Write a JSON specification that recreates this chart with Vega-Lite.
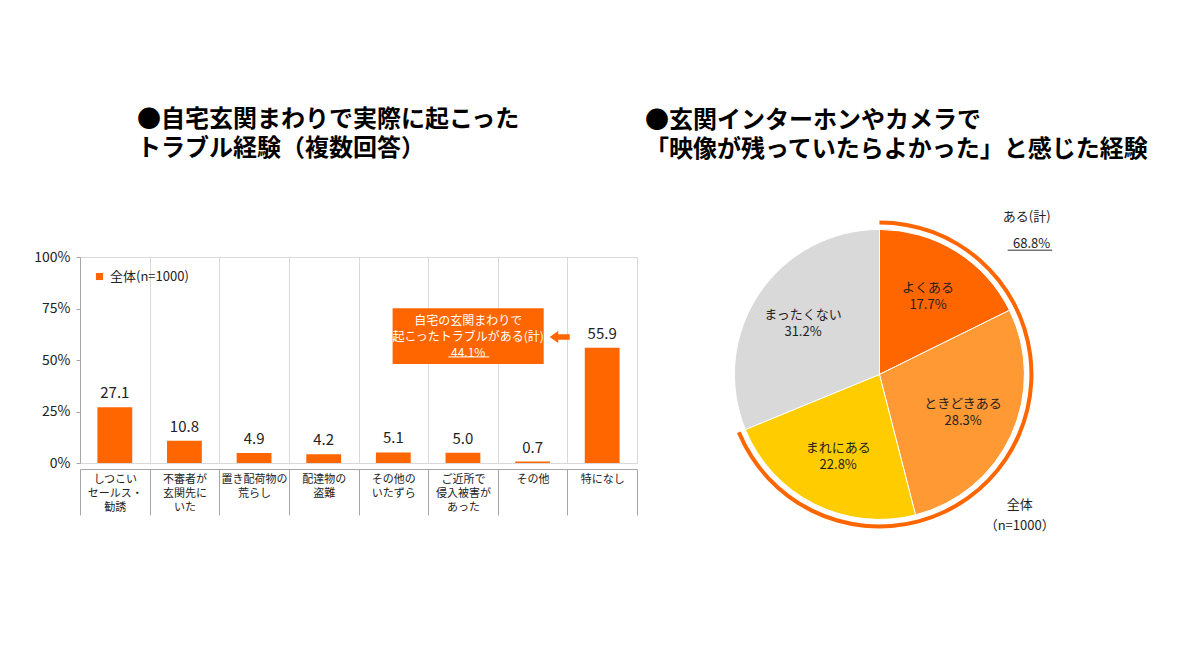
{
  "$schema": "https://vega.github.io/schema/vega-lite/v6.json",
  "background": "white",
  "padding": {"left": 33, "top": 107, "right": 0, "bottom": 0},
  "spacing": 61,
  "bounds": "flush",
  "resolve": {"scale": {"color": "independent"}, "legend": {"color": "independent"}},
  "config": {
    "font": "Noto Sans CJK JP",
    "view": {"stroke": null},
    "title": {"font": "Noto Sans CJK JP", "fontSize": 24, "fontWeight": "bold", "color": "#000000", "anchor": "start", "lineHeight": 29, "align": "left", "frame": "group"}
  },
  "hconcat": [
    {
      "width": 557,
      "height": 206,
      "view": {"stroke": "#d9d9d9"},
      "title": {"text": ["●自宅玄関まわりで実際に起こった", "　トラブル経験（複数回答）"], "dx": 57, "offset": 89},
      "data": {"values": [
        {"cat": "しつこい\nセールス・\n勧誘", "v": 27.1},
        {"cat": "不審者が\n玄関先に\nいた", "v": 10.8},
        {"cat": "置き配荷物の\n荒らし", "v": 4.9},
        {"cat": "配達物の\n盗難", "v": 4.2},
        {"cat": "その他の\nいたずら", "v": 5.1},
        {"cat": "ご近所で\n侵入被害が\nあった", "v": 5.0},
        {"cat": "その他", "v": 0.7},
        {"cat": "特になし", "v": 55.9}
      ]},
      "layer": [
        {
          "mark": {"type": "bar", "width": {"band": 0.5}},
          "encoding": {
            "x": {"field": "cat", "type": "nominal", "sort": null,
              "scale": {"paddingInner": 0, "paddingOuter": 0},
              "axis": {"title": null, "labelAngle": 0, "labelFontSize": 11, "labelColor": "#222222", "labelLineHeight": 14,
                "labelBaseline": "top", "labelExpr": "split(datum.label, '\\n')", "tickBand": "extent", "tickSize": 46,
                "labelPadding": -42, "offset": 6, "tickColor": "#a6a6a6", "domainColor": "#a6a6a6",
                "grid": true, "gridColor": "#d9d9d9"}},
            "y": {"field": "v", "type": "quantitative", "scale": {"domain": [0, 100], "nice": false},
              "axis": {"title": null, "values": [0, 25, 50, 75, 100], "labelExpr": "datum.value + '%'", "grid": false,
                "tickSize": 4, "tickColor": "#a6a6a6", "domainColor": "#a6a6a6", "labelFontSize": 14, "labelColor": "#222222", "labelPadding": 6}},
            "color": {"datum": "全体(n=1000)", "type": "nominal", "scale": {"range": ["#FF6600"]},
              "legend": {"title": null, "orient": "top-left", "offset": 13, "padding": 0, "symbolType": "square", "symbolSize": 50,
                "symbolStrokeWidth": 0, "labelFontSize": 13, "labelColor": "#222222"}}
          }
        },
        {
          "mark": {"type": "text", "baseline": "bottom", "dy": -6, "fontSize": 15, "color": "#222222"},
          "encoding": {
            "x": {"field": "cat", "type": "nominal", "sort": null, "scale": {"paddingInner": 0, "paddingOuter": 0}, "axis": null},
            "y": {"field": "v", "type": "quantitative"},
            "text": {"field": "v", "type": "quantitative", "format": ".1f"}
          }
        },
        {
          "data": {"values": [{"total": 44.1}]},
          "mark": {"type": "rect", "color": "#FF6600"},
          "encoding": {
            "x": {"datum": 4.49, "type": "quantitative", "scale": {"domain": [0, 8], "nice": false, "zero": false}, "axis": null},
            "x2": {"datum": 6.66},
            "y": {"datum": 75.1, "type": "quantitative"},
            "y2": {"datum": 48.1}
          }
        },
        {
          "data": {"values": [{"total": 44.1}]},
          "mark": {"type": "text", "color": "white", "fontSize": 12, "lineHeight": 16, "align": "center", "baseline": "middle"},
          "encoding": {
            "x": {"datum": 5.575, "type": "quantitative", "scale": {"domain": [0, 8], "nice": false, "zero": false}, "axis": null},
            "y": {"datum": 69.1, "type": "quantitative"},
            "text": {"value": ["自宅の玄関まわりで", "起こったトラブルがある(計)", "44.1%"]}
          }
        },
        {
          "data": {"values": [{"total": 44.1}]},
          "mark": {"type": "rule", "color": "white", "strokeWidth": 1},
          "encoding": {
            "x": {"datum": 5.29, "type": "quantitative", "scale": {"domain": [0, 8], "nice": false, "zero": false}, "axis": null},
            "x2": {"datum": 5.88},
            "y": {"datum": 51.5, "type": "quantitative"}
          }
        },
        {
          "data": {"values": [{"total": 44.1}]},
          "mark": {"type": "point", "filled": true, "opacity": 1, "color": "#FF6600", "size": 400,
            "shape": "M-1,0 L-0.15,-0.6 L-0.15,-0.28 L1,-0.28 L1,0.28 L-0.15,0.28 L-0.15,0.6 Z"},
          "encoding": {
            "x": {"datum": 6.89, "type": "quantitative", "scale": {"domain": [0, 8], "nice": false, "zero": false}, "axis": null},
            "y": {"datum": 61.2, "type": "quantitative"}
          }
        }
      ],
      "resolve": {"scale": {"x": "independent"}, "axis": {"x": "independent"}}
    },
    {
      "width": 450,
      "height": 290,
      "title": {"text": ["●玄関インターホンやカメラで", "「映像が残っていたらよかった」と感じた経験"], "dx": -53, "offset": 49},
      "data": {"values": [
        {"k": "よくある", "v": 17.7, "i": 1},
        {"k": "ときどきある", "v": 28.3, "i": 2},
        {"k": "まれにある", "v": 22.8, "i": 3},
        {"k": "まったくない", "v": 31.2, "i": 4}
      ]},
      "layer": [
        {
          "mark": {"type": "arc", "radius": 145, "stroke": "white", "strokeWidth": 1},
          "encoding": {
            "x": {"datum": 0, "type": "quantitative", "scale": {"domain": [-1.25, 1.85], "nice": false, "zero": false}, "axis": null},
            "y": {"datum": 0, "type": "quantitative", "scale": {"domain": [-1.19, 0.81], "nice": false, "zero": false}, "axis": null},
            "theta": {"field": "v", "type": "quantitative", "stack": true, "scale": {"domain": [0, 100]}},
            "order": {"field": "i", "type": "quantitative"},
            "color": {"field": "k", "type": "nominal",
              "scale": {"domain": ["よくある", "ときどきある", "まれにある", "まったくない"], "range": ["#FF6600", "#FF9933", "#FFCC00", "#D9D9D9"]},
              "legend": null}
          }
        },
        {
          "transform": [{"calculate": "[datum.k, format(datum.v, '.1f') + '%']", "as": "lbl"}],
          "mark": {"type": "text", "radius": 92, "dy": -8.5, "fontSize": 13, "lineHeight": 17, "color": "#222222", "align": "center", "baseline": "middle"},
          "encoding": {
            "x": {"datum": 0, "type": "quantitative"},
            "y": {"datum": 0, "type": "quantitative"},
            "theta": {"field": "v", "type": "quantitative", "stack": true},
            "order": {"field": "i", "type": "quantitative"},
            "text": {"field": "lbl"}
          }
        },
        {
          "data": {"values": [{"k": "ある(計)", "v": 68.8}]},
          "mark": {"type": "arc", "radius": 154, "radius2": 150, "color": "#FF6600"},
          "encoding": {
            "x": {"datum": 0, "type": "quantitative"},
            "y": {"datum": 0, "type": "quantitative"},
            "theta": {"field": "v", "type": "quantitative", "stack": true}
          }
        },
        {
          "data": {"values": [{"k": "ある(計)", "v": 68.8}]},
          "mark": {"type": "text", "fontSize": 13, "color": "#222222", "align": "center", "baseline": "middle"},
          "encoding": {
            "x": {"datum": 1.014, "type": "quantitative"},
            "y": {"datum": 1.083, "type": "quantitative"},
            "text": {"field": "k"}
          }
        },
        {
          "data": {"values": [{"k": "ある(計)", "v": 68.8}]},
          "transform": [{"calculate": "format(datum.v, '.1f') + '%'", "as": "pct"}],
          "mark": {"type": "text", "fontSize": 13, "color": "#222222", "align": "center", "baseline": "middle"},
          "encoding": {
            "x": {"datum": 1.048, "type": "quantitative"},
            "y": {"datum": 0.897, "type": "quantitative"},
            "text": {"field": "pct"}
          }
        },
        {
          "data": {"values": [{"k": "ある(計)", "v": 68.8}]},
          "mark": {"type": "rule", "color": "#333333", "strokeWidth": 1},
          "encoding": {
            "x": {"datum": 0.883, "type": "quantitative"},
            "x2": {"datum": 1.19},
            "y": {"datum": 0.857, "type": "quantitative"}
          }
        },
        {
          "data": {"values": [{"n": 1000}]},
          "mark": {"type": "text", "fontSize": 13, "lineHeight": 21, "color": "#222222", "align": "center", "baseline": "middle"},
          "encoding": {
            "x": {"datum": 0.966, "type": "quantitative"},
            "y": {"datum": -0.897, "type": "quantitative"},
            "text": {"value": ["全体", "（n=1000）"]}
          }
        }
      ]
    }
  ]
}
